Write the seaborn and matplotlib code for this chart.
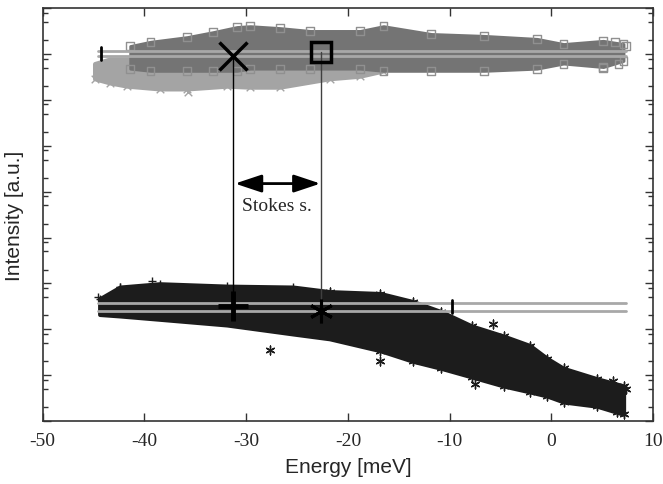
import numpy as np
import pandas as pd
import matplotlib
matplotlib.use("Agg")
import matplotlib.pyplot as plt
from matplotlib.ticker import LogLocator, NullFormatter
import seaborn as sns

# upper band: open squares (dark core) over crosses (light gray)
sq_x = [-41.4, -39.4, -35.8, -33.3, -30.9, -29.6, -26.7, -23.7, -18.8, -16.5, -11.8, -6.6, -1.4, 1.2, 5.1, 7.1]
sq_hi = [1.5e8, 1.86e8, 2.35e8, 3.0e8, 3.9e8, 4.07e8, 3.7e8, 3.2e8, 3.2e8, 4.07e8, 2.75e8, 2.5e8, 2.15e8, 1.66e8, 1.95e8, 1.66e8]
sq_lo = [4.8e7, 4.3e7, 4.3e7, 4.3e7, 4.3e7, 4.8e7, 4.8e7, 4.8e7, 4.8e7, 4.3e7, 4.3e7, 4.3e7, 4.8e7, 6.2e7, 5.2e7, 7.1e7]
cr_x = [-44.9, -43.4, -41.7, -38.5, -35.8, -31.9, -29.6, -26.7, -21.8, -18.8, -16.5]
cr_hi = [6.2e7, 7.8e7, 7.8e7, 7.8e7, 7.8e7, 7.8e7, 7.8e7, 7.8e7, 7.8e7, 7.8e7, 7.8e7]
cr_lo = [2.9e7, 2.35e7, 2.0e7, 1.74e7, 1.74e7, 2.0e7, 1.9e7, 1.9e7, 2.9e7, 3.3e7, 4.3e7]

# lower band: plus signs (left) and asterisks
bot_x = [-44.4, -42.4, -38.5, -31.9, -25.4, -21.8, -16.8, -13.6, -10.8, -7.8, -4.7, -2.1, -0.4, 1.2, 4.5, 7.1]
bot_hi = [460, 830, 980, 870, 830, 660, 600, 400, 240, 117, 71, 44, 23, 14, 8.3, 5.8]
bot_lo = [210, 195, 165, 124, 79, 62, 34, 20, 14, 9.1, 5.8, 4.3, 3.5, 2.6, 2.1, 1.4]

# isolated points
sq_out_x = [6.3, 7.3, 5.1, 6.6]
sq_out_y = [1.86e8, 1.5e8, 5.0e7, 6.2e7]
cr_out_x = [-35.7]
cr_out_y = [1.5e7]
plus_out_x = [-44.6, -39.3, -42.4]
plus_out_y = [500, 1120, 830]
star_out_x = [-27.7, -16.8, -5.7, -7.5, 6.1, 7.3, 6.5]
star_out_y = [35, 20, 130, 6.5, 7.4, 5.0, 1.6]

# fitted peak positions and levels
peak_x = [-31.3, -22.6]
top_peak_y = [9.1e7, 1.12e8]
bot_peak_y = [320, 250]
top_lines = [1.17e8, 9.1e7]
bot_lines = [370, 245]
line_span = [-44.6, 7.3]

sns.set_style("ticks")
plt.rcParams['font.family'] = ['Liberation Serif', 'DejaVu Serif']

fig = plt.figure(figsize=(6.63, 4.85), dpi=100)
ax = fig.add_axes([0.0644, 0.13, 0.9206, 0.851])
ax.set_yscale('log')

# upper band
ax.fill_between(cr_x, cr_lo, cr_hi, color='#a4a4a4', lw=3, joinstyle='round', zorder=1)
sns.scatterplot(x=cr_x + cr_out_x, y=cr_lo + cr_out_y, marker='x', color='#a4a4a4', s=30, linewidth=1, ax=ax, zorder=1)
ax.fill_between(sq_x, sq_lo, sq_hi, color='#747474', lw=2, joinstyle='round', zorder=2)
ax.scatter(sq_x + sq_out_x, sq_hi + sq_out_y, marker='s', s=32, facecolors='none', edgecolors='#909090', linewidths=1, zorder=2)
ax.scatter(sq_x, sq_lo, marker='s', s=32, facecolors='none', edgecolors='#909090', linewidths=1, zorder=2)

# lower band
ax.fill_between(bot_x, bot_lo, bot_hi, color='#1c1c1c', lw=3, joinstyle='round', zorder=2)
sns.scatterplot(x=bot_x[:5] + plus_out_x, y=bot_hi[:5] + plus_out_y, marker='+', color='#1c1c1c', s=40, linewidth=1, ax=ax, zorder=2)
sns.scatterplot(x=bot_x[5:] + star_out_x, y=bot_hi[5:] + star_out_y, marker=(6, 2, 0), color='#1c1c1c', s=40, linewidth=1, ax=ax, zorder=2)
sns.scatterplot(x=bot_x[6:], y=bot_lo[6:], marker=(6, 2, 0), color='#1c1c1c', s=40, linewidth=1, ax=ax, zorder=2)

# double level lines
for yl in top_lines + bot_lines:
    ax.plot(line_span, [yl, yl], color='#a8a8a8', lw=2, zorder=3)
ax.plot([-44.3, -44.3], [7.5e7, 1.45e8], color='black', lw=2, zorder=4)
ax.plot([-9.8, -9.8], [230, 440], color='black', lw=2, zorder=4)

# peak markers and connecting lines
ax.plot([peak_x[0], peak_x[0]], [top_peak_y[0], bot_peak_y[0]], color='black', lw=1, zorder=4)
ax.plot([peak_x[1], peak_x[1]], [top_peak_y[1], bot_peak_y[1]], color='#404040', lw=1, zorder=4)
ax.plot(peak_x[0], top_peak_y[0], marker='x', ms=20, mew=2.5, color='black', zorder=5)
ax.plot(peak_x[1], top_peak_y[1], marker='s', ms=15, mew=2.5, mfc='none', mec='black', zorder=5)
ax.plot(peak_x[0], bot_peak_y[0], marker='+', ms=21, mew=3.5, color='black', zorder=5)
ax.plot(peak_x[1], bot_peak_y[1], marker=(6, 2, 0), ms=17, mew=2.2, color='black', zorder=5)

# Stokes shift arrow
ax.annotate('', xy=(-22.7, 1.5e5), xytext=(-31.1, 1.5e5),
            arrowprops=dict(arrowstyle='<|-|>,head_length=0.9,head_width=0.3', color='black', lw=2,
                            shrinkA=0, shrinkB=0, mutation_scale=18), zorder=5)
ax.text(-27.0, 4.9e4, 'Stokes s.', ha='center', va='center', fontsize=14, family='Liberation Serif')

ax.set_xlim(-50, 10)
ax.set_ylim(1, 1e9)
ax.set_xticks(np.arange(-50, 11, 10))
ax.set_xticklabels(['-50', '-40', '-30', '-20', '-10', '0', '10'], fontsize=14)
ax.yaxis.set_major_locator(LogLocator(base=10, numticks=20))
ax.yaxis.set_minor_locator(LogLocator(base=10, subs=[2, 5, 8], numticks=20))
ax.yaxis.set_major_formatter(NullFormatter())
ax.yaxis.set_minor_formatter(NullFormatter())
ax.tick_params(axis='both', which='major', direction='in', length=6, width=1, top=True, right=True, color='#333333')
ax.tick_params(axis='y', which='minor', direction='in', length=3.5, width=1, right=True, color='#333333')
ax.tick_params(axis='x', pad=8)
for s in ax.spines.values():
    s.set_linewidth(1.2)
    s.set_color('#333333')

ax.set_xlabel('Energy [meV]', fontsize=15, family='Liberation Sans', labelpad=6)
ax.set_ylabel('Intensity [a.u.]', fontsize=15, family='Liberation Sans', labelpad=10)

fig.savefig('out.png', dpi=100)
